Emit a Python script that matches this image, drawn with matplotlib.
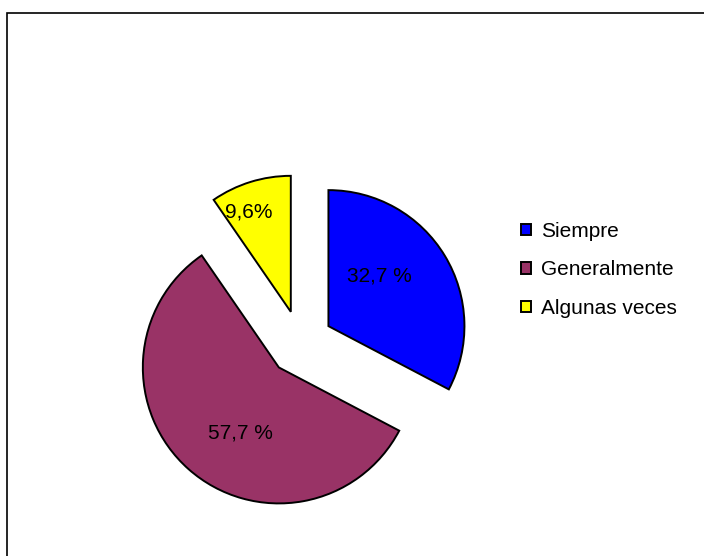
import matplotlib.pyplot as plt
from matplotlib.patches import Rectangle

plt.rcParams['font.family'] = ['Liberation Sans', 'DejaVu Sans']

categories = ['Siempre', 'Generalmente', 'Algunas veces']
values = [32.7, 57.7, 9.6]
pct_sep = [' %', ' %', '%']
colors = ['#0000FF', '#993366', '#FFFF00']

# label anchor points, in pie-radius units from the pie centre
label_pos = [(0.58, 0.49), (-0.44, -0.66), (-0.38, 0.96)]

W, H = 704, 556
R = 136.0          # pie radius in pixels
CX, CY = 300.5, 343.0   # pie centre in pixels (from top-left)

fig = plt.figure(figsize=(W / 100, H / 100), dpi=100)
ax = fig.add_axes([0, 0, 1, 1])

wedges, _ = ax.pie(values, colors=colors, startangle=90, counterclock=False,
                   explode=[0.24] * 3, radius=1,
                   wedgeprops=dict(edgecolor='black', linewidth=1.4))

ax.set_xlim(-CX / R, (W - CX) / R)
ax.set_ylim(-(H - CY) / R, CY / R)
ax.set_aspect('equal', adjustable='box')
ax.axis('off')

for v, sep, (lx, ly) in zip(values, pct_sep, label_pos):
    txt = f'{v:.1f}'.replace('.', ',') + sep
    ax.text(lx, ly, txt, ha='center', va='center', fontsize=15, color='black')

ax.legend(wedges, categories, loc='center left',
          bbox_to_anchor=(521 / W, 1 - 270 / H), bbox_transform=fig.transFigure,
          frameon=False, fontsize=15, borderpad=0, borderaxespad=0,
          handlelength=0.48, handleheight=0.48, handletextpad=0.48,
          labelspacing=0.94)

# chart area frame
fig.patches.append(Rectangle((7.5 / W, -0.1), 1.0, (H - 12.5) / H + 0.1,
                             transform=fig.transFigure, fill=False,
                             edgecolor='black', linewidth=1.2))

plt.savefig('out.png', dpi=100)
